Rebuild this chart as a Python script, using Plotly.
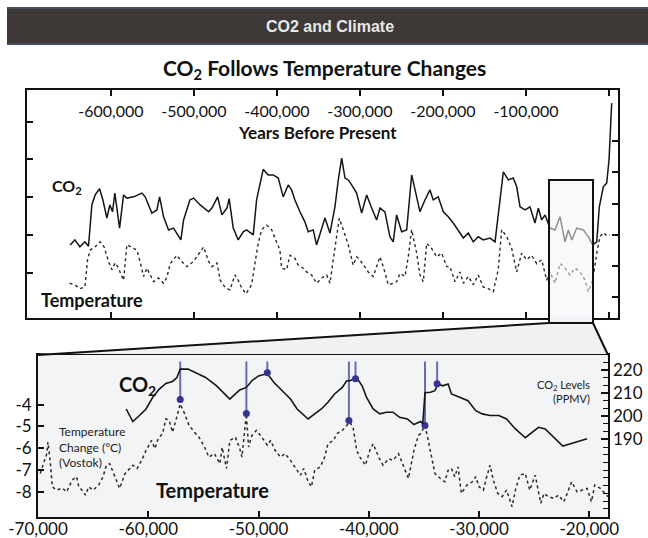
import plotly.graph_objects as go

W, H = 648, 538

# ---------------- data ----------------
# Long record (top panel): years before present, CO2 (ppmv), temperature change (deg C)
top_co2_years = [-649000, -643400, -637300, -631300, -626900, -622900, -618900, -613600, -609600, -604800,
                 -601200, -598000, -595200, -589500, -584700, -580700, -572600, -562600, -558700, -550600,
                 -544600, -541300, -536500, -530500, -524500, -520500, -515700, -512400, -504800, -500400,
                 -492400, -482300, -478300, -471400, -466300, -460200, -457500, -452600, -446600, -440600,
                 -436500, -428500, -424500, -416500, -410500, -404500, -398400, -392400, -386400, -382300,
                 -378300, -372300, -366300, -362300, -356300, -352200, -348200, -342200, -336100, -330100,
                 -326100, -322000, -318000, -314100, -310000, -304000, -297900, -291900, -285900, -279900,
                 -275900, -269900, -263900, -259900, -255800, -249800, -243700, -237700, -231700, -227700,
                 -221700, -215700, -211700, -205700, -199600, -193600, -187600, -181600, -175500, -169500,
                 -163500, -157500, -151500, -143400, -137300, -131300, -127300, -121300, -115300, -111200,
                 -107200, -101200, -95200, -89200, -85200, -81100, -77100, -71100, -65100, -59000,
                 -53000, -49000, -44900, -38900, -31000, -24900, -19600, -14800, -11700, -6900,
                 -2800, 0, 3200]
top_co2_ppm = [184, 192, 181, 189, 182, 248, 264, 274, 256, 227,
               248, 237, 267, 211, 264, 259, 261, 267, 261, 235,
               240, 261, 229, 208, 211, 203, 192, 224, 256, 259,
               248, 237, 243, 261, 232, 243, 258, 211, 192, 205,
               208, 200, 256, 305, 296, 296, 291, 261, 280, 272,
               256, 237, 221, 205, 208, 184, 203, 227, 203, 245,
               288, 323, 291, 288, 280, 267, 235, 264, 243, 224,
               243, 237, 197, 189, 232, 205, 208, 296, 261, 237,
               256, 272, 256, 261, 237, 229, 219, 208, 195, 203,
               189, 197, 192, 195, 189, 256, 301, 288, 291, 277,
               245, 240, 245, 219, 243, 224, 232, 211, 208, 229,
               189, 208, 192, 211, 208, 197, 184, 189, 245, 277,
               283, 320, 411]

top_temp_years = [-649700, -643400, -637000, -631300, -628100, -624900, -619300, -612900, -608100, -602800,
                  -598800, -594800, -590800, -584700, -580700, -574700, -568700, -564700, -560600, -556600,
                  -548600, -542600, -536500, -532500, -528500, -520500, -516500, -508400, -500400, -488300,
                  -482300, -478300, -472300, -468300, -462600, -456600, -450600, -446600, -442500, -437300,
                  -430500, -426500, -422500, -418400, -412400, -406400, -400400, -396400, -394300, -388300,
                  -384300, -378300, -374300, -368300, -364200, -358200, -352200, -346100, -340100, -336100,
                  -332200, -328100, -324900, -320100, -314100, -308100, -304000, -300000, -294000, -290000,
                  -284000, -279900, -275900, -271900, -265900, -259900, -255800, -251800, -245800, -241800,
                  -237700, -231700, -227700, -223700, -219600, -213600, -207600, -201600, -195500, -191600,
                  -185500, -179500, -175500, -169500, -163500, -157500, -151500, -145400, -139400, -133400,
                  -129300, -123300, -117200, -111200, -105200, -99200, -93100, -87100, -81100, -75100,
                  -71100, -65100, -59000, -53000, -47000, -41000, -34900, -28900, -24900, -19600,
                  -14800, -10800, -6900, -2800, 1200]
top_temp_c = [-6.4, -6.6, -7.1, -6.9, -3.3, -2.0, -1.6, -0.9, -1.6, -3.5,
              -4.6, -3.7, -4.4, -6.0, -1.3, -1.6, -2.0, -3.6, -5.5, -4.4,
              -6.2, -5.7, -6.4, -5.6, -3.8, -2.7, -3.3, -4.2, -3.5, -1.6,
              -3.5, -4.2, -3.7, -6.0, -6.9, -7.3, -5.3, -6.0, -7.0, -7.8,
              -6.6, -3.8, -1.1, 0.7, 1.3, 0.7, -0.9, -2.0, -4.4, -4.6,
              -2.7, -3.1, -4.0, -4.4, -4.9, -5.3, -6.4, -5.7, -5.3, -6.4,
              -3.3, 0.2, 2.2, 0.7, -1.3, -4.0, -2.9, -3.3, -4.2, -4.9,
              -5.5, -4.2, -2.9, -4.2, -6.6, -6.4, -6.2, -5.1, -5.5, -2.9,
              0.7, -2.4, -5.3, -6.2, -1.1, -1.8, -2.9, -2.4, -4.2, -4.2,
              -6.2, -4.9, -6.4, -5.5, -6.6, -5.3, -6.9, -7.1, -7.5, -4.6,
              0.7, -0.2, -1.8, -4.9, -2.4, -3.3, -2.7, -3.8, -3.3, -6.0,
              -4.9, -6.4, -3.8, -4.4, -5.3, -4.4, -4.9, -6.0, -7.5, -6.0,
              -2.4, -0.2, 0.3, -0.1, 0.0]

# Detail (bottom panel), 70,000 - 18,000 years before present
inset_co2_years = [-62000, -61400, -60800, -60200, -59600, -59000, -58400, -57800, -57400, -57100,
                   -56400, -55700, -54800, -53800, -52900, -52600, -52100, -51700, -51100, -50600,
                   -50000, -49200, -48600, -47900, -47100, -46500, -45900, -45500, -44900, -44300,
                   -43700, -43100, -42400, -42000, -41700, -41100, -40600, -40200, -39600, -39000,
                   -38400, -37800, -37200, -36500, -35900, -35300, -35100, -34900, -34400, -34000,
                   -33700, -33300, -32800, -32500, -31700, -31000, -30300, -29700, -29000, -28200,
                   -27500, -26700, -25800, -25200, -24600, -24000, -23200, -22400, -21700, -21000,
                   -20200]
inset_co2_ppm = [203.1, 197.7, 200.3, 203.1, 208.1, 211.7, 214.1, 215.0, 216.7, 220.3,
                 220.3, 218.8, 216.7, 213.1, 208.8, 207.4, 209.6, 211.3, 212.4, 215.3,
                 217.4, 218.4, 214.5, 211.0, 207.4, 203.1, 200.3, 198.8, 201.0, 203.1,
                 206.0, 209.6, 212.4, 215.3, 215.3, 216.7, 213.1, 208.1, 203.1, 201.0,
                 201.7, 201.7, 199.5, 198.8, 196.4, 197.7, 196.8, 210.1, 210.3, 211.0,
                 213.9, 213.1, 213.9, 209.6, 208.1, 206.7, 202.4, 201.0, 200.3, 200.3,
                 198.8, 194.5, 190.7, 193.1, 195.2, 194.5, 190.9, 187.1, 188.1, 189.2,
                 190.3]

inset_temp_years = [-69800, -69500, -69200, -69100, -68900, -68700, -68300, -67800, -67400, -66900,
                    -66500, -66300, -66000, -65700, -65400, -65000, -64500, -64100, -63800, -63500,
                    -63000, -62600, -62100, -61700, -61400, -61000, -60600, -60200, -59700, -59400,
                    -59100, -58700, -58400, -58100, -57800, -57500, -57100, -56700, -56300, -55800,
                    -55400, -54900, -54500, -54000, -53500, -53300, -52900, -52600, -52100, -51700,
                    -51500, -51100, -50900, -50600, -50200, -49700, -49200, -48900, -48500, -48000,
                    -47600, -47100, -46700, -46200, -45900, -45500, -45200, -44900, -44400, -44000,
                    -43700, -43200, -42900, -42400, -42000, -41700, -41400, -41100, -40800, -40300,
                    -39900, -39600, -39100, -38700, -38200, -37800, -37300, -36900, -36400, -35900,
                    -35500, -35300, -34900, -34600, -34300, -34000, -33500, -33100, -32800, -32500,
                    -32200, -31900, -31600, -31100, -30600, -30300, -30000, -29600, -29300, -29000,
                    -28700, -28300, -27900, -27500, -27000, -26700, -26300, -25800, -25400, -24900,
                    -24400, -24100, -23700, -23200, -22800, -22300, -22000, -21600, -21100, -20700,
                    -20200, -19800, -19500, -19000, -18700, -18300]
inset_temp_c = [-7.15, -6.70, -6.24, -5.71, -6.55, -7.76, -7.91, -7.82, -7.99, -7.45,
                -7.30, -7.76, -7.91, -8.14, -7.76, -7.91, -7.68, -7.30, -6.77, -6.70,
                -7.30, -7.83, -7.15, -6.92, -6.77, -6.92, -6.55, -6.09, -5.64, -6.01,
                -5.56, -5.33, -4.65, -4.73, -5.26, -4.73, -3.97, -4.42, -4.95, -5.26,
                -5.49, -5.94, -6.40, -6.24, -6.70, -5.95, -6.92, -5.64, -5.49, -6.01,
                -6.40, -4.42, -5.94, -5.41, -5.18, -5.49, -5.86, -5.64, -6.09, -6.40,
                -6.24, -6.55, -6.85, -7.23, -6.92, -7.53, -7.76, -7.00, -6.85, -6.40,
                -5.79, -5.64, -5.33, -5.18, -4.95, -4.80, -5.10, -6.09, -6.40, -6.77,
                -6.09, -5.79, -6.40, -6.77, -6.47, -6.55, -6.24, -6.77, -7.38, -6.09,
                -5.41, -5.33, -4.95, -5.64, -6.40, -7.15, -7.38, -7.53, -7.00, -6.92,
                -7.30, -6.85, -8.06, -7.68, -7.53, -7.30, -7.76, -7.91, -7.30, -6.77,
                -7.45, -8.06, -8.21, -7.91, -8.67, -7.91, -7.23, -7.15, -7.91, -7.23,
                -8.51, -8.06, -8.21, -8.29, -8.14, -8.44, -8.06, -7.53, -7.99, -7.91,
                -7.83, -8.44, -7.68, -7.83, -7.99, -8.21]

# Temperature peaks and the later CO2 peaks (the blue markers)
temp_peak_years = [-57100, -51100, -41800, -34900]
temp_peak_c = [-3.77, -4.41, -4.73, -4.95]
co2_peak_years = [-49200, -41200, -33800]
co2_peak_ppm = [218.7, 216.1, 214.0]

# Tick values / labels
top_tick_vals = [-600000, -500000, -400000, -300000, -200000, -100000, 0]
top_tick_text = ["-600,000", "-500,000", "-400,000", "-300,000", "-200,000", "-100,000", " "]
top_temp_ticks = [-5, 0, 5, 10, 15]
inset_tick_vals = [-70000, -60000, -50000, -40000, -30000, -20000]
inset_tick_text = ["-70,000", "-60,000", "-50,000", "-40,000", "-30,000", "-20,000"]
inset_temp_ticks = [-8, -7, -6, -5, -4]
inset_temp_text = ["-8", "-7", "-6", "-5", "-4"]
inset_co2_ticks = [190, 200, 210, 220]
inset_co2_minor = [160, 163.33, 166.67, 170, 173.33, 176.67, 180, 183.33, 186.67, 193.33, 196.67,
                   203.33, 206.67, 213.33, 216.67, 223.33, 226.67]
inset_top_ticks = [-55400, -48100, -40800, -33700, -26100, -18900]

# ---------------- layout helpers ----------------
def px_x(p):
    return p / W


def px_y(p):
    return 1 - p / H


TOP_X_RANGE = [-701000, 10800]
TOP_T_RANGE = [-11.0, 19.2]
TOP_C_RANGE = [67, 432]
IN_X_RANGE = [-70000, -18300]
IN_T_RANGE = [-9.14, -1.73]
IN_C_RANGE = [156.5, 226.4]

top_dom_x = [px_x(27), px_x(618)]
top_dom_y = [px_y(318), px_y(90)]
in_dom_x = [px_x(38), px_x(608)]
in_dom_y = [px_y(517), px_y(355)]

FONT = "Lato, 'Open Sans', sans-serif"
BLUE = "#6a6ab8"
DOT = "#35358f"

fig = go.Figure()

# top panel traces
fig.add_trace(go.Scatter(x=top_co2_years, y=top_co2_ppm, xaxis="x", yaxis="y2", mode="lines",
                         line=dict(color="#151515", width=1.5), hoverinfo="skip", showlegend=False))
fig.add_trace(go.Scatter(x=top_temp_years, y=top_temp_c, xaxis="x", yaxis="y", mode="lines",
                         line=dict(color="#2a2a2a", width=1.4, dash="dot"), hoverinfo="skip", showlegend=False))

# inset traces
fig.add_trace(go.Scatter(x=inset_co2_years, y=inset_co2_ppm, xaxis="x3", yaxis="y4", mode="lines",
                         line=dict(color="#151515", width=1.6), hoverinfo="skip", showlegend=False))
fig.add_trace(go.Scatter(x=inset_temp_years, y=inset_temp_c, xaxis="x3", yaxis="y3", mode="lines",
                         line=dict(color="#2a2a2a", width=1.5, dash="dot"), hoverinfo="skip", showlegend=False))

# vertical marker lines: from the top of the inset down to each peak
t_top = IN_T_RANGE[0] + 0.96 * (IN_T_RANGE[1] - IN_T_RANGE[0])
c_top = IN_C_RANGE[0] + 0.96 * (IN_C_RANGE[1] - IN_C_RANGE[0])
lx, ly = [], []
for yr, v in zip(temp_peak_years, temp_peak_c):
    lx += [yr, yr, None]
    ly += [t_top, v, None]
fig.add_trace(go.Scatter(x=lx, y=ly, xaxis="x3", yaxis="y3", mode="lines",
                         line=dict(color=BLUE, width=2), hoverinfo="skip", showlegend=False))
lx, ly = [], []
for yr, v in zip(co2_peak_years, co2_peak_ppm):
    lx += [yr, yr, None]
    ly += [c_top, v, None]
fig.add_trace(go.Scatter(x=lx, y=ly, xaxis="x3", yaxis="y4", mode="lines",
                         line=dict(color=BLUE, width=2), hoverinfo="skip", showlegend=False))
fig.add_trace(go.Scatter(x=temp_peak_years, y=temp_peak_c, xaxis="x3", yaxis="y3", mode="markers",
                         marker=dict(color=DOT, size=7), hoverinfo="skip", showlegend=False))
fig.add_trace(go.Scatter(x=co2_peak_years, y=co2_peak_ppm, xaxis="x3", yaxis="y4", mode="markers",
                         marker=dict(color=DOT, size=7), hoverinfo="skip", showlegend=False))

axis_line = dict(showline=True, linecolor="#111", linewidth=2, showgrid=False, zeroline=False,
                 automargin=False)
plain = dict(showgrid=False, zeroline=False, showline=False, automargin=False)

fig.update_layout(
    template="none",
    width=W, height=H, autosize=False,
    margin=dict(l=0, r=0, t=0, b=0, pad=0),
    paper_bgcolor="white", plot_bgcolor="rgba(0,0,0,0)",
    font=dict(family=FONT, color="#111"),
    xaxis=dict(domain=top_dom_x, range=TOP_X_RANGE, anchor="y", side="top",
               tickvals=top_tick_vals, ticktext=top_tick_text, ticks="inside", ticklen=6,
               tickcolor="#111", tickwidth=1.5, ticklabelposition="inside", ticklabelstandoff=10,
               tickfont=dict(size=16, color="#111"), mirror="ticks", **axis_line),
    yaxis=dict(domain=top_dom_y, range=TOP_T_RANGE, anchor="x", tickvals=top_temp_ticks,
               ticks="inside", ticklen=6, tickwidth=1.5, tickcolor="#111", showticklabels=False,
               mirror=True, **axis_line),
    yaxis2=dict(domain=top_dom_y, range=TOP_C_RANGE, anchor="x", overlaying="y", side="right",
                tick0=0, dtick=50, ticks="inside", ticklen=6, tickwidth=1.5, tickcolor="#111",
                showticklabels=False, **plain),
    xaxis3=dict(domain=in_dom_x, range=IN_X_RANGE, anchor="y3", tickvals=inset_tick_vals,
                ticktext=inset_tick_text, ticks="inside", ticklen=6, tickwidth=1.5, tickcolor="#111",
                ticklabelstandoff=-4,
                tickfont=dict(size=17, color="#111"), mirror=True, **axis_line),
    xaxis4=dict(domain=in_dom_x, range=IN_X_RANGE, anchor="y3", overlaying="x3", side="top",
                tickvals=inset_top_ticks, ticks="inside", ticklen=5, tickwidth=1.5, tickcolor="#111",
                showticklabels=False, **plain),
    yaxis3=dict(domain=in_dom_y, range=IN_T_RANGE, anchor="x3", tickvals=inset_temp_ticks,
                ticktext=inset_temp_text, ticks="inside", ticklen=6, tickwidth=1.5, tickcolor="#111",
                ticklabelstandoff=1,
                tickfont=dict(size=17, color="#111"), mirror=True, **axis_line),
    yaxis4=dict(domain=in_dom_y, range=IN_C_RANGE, anchor="x3", overlaying="y3", side="right",
                tickvals=inset_co2_ticks, ticks="inside", ticklen=7, tickwidth=1.5, tickcolor="#111",
                tickfont=dict(size=17, color="#111"), ticklabelstandoff=4,
                minor=dict(tickvals=inset_co2_minor, ticks="inside", ticklen=5, tickwidth=1.2,
                           tickcolor="#111"),
                **plain),
)

shapes = []
# header bar
shapes.append(dict(type="rect", xref="paper", yref="paper", x0=px_x(7), x1=1, y0=px_y(45), y1=px_y(7),
                   fillcolor="#3e3836", line=dict(width=0), layer="below"))
shapes.append(dict(type="line", xref="paper", yref="paper", x0=px_x(7), x1=1, y0=px_y(8), y1=px_y(8),
                   line=dict(color="#4d5670", width=1.5), layer="below"))
shapes.append(dict(type="line", xref="paper", yref="paper", x0=px_x(7), x1=1, y0=px_y(44), y1=px_y(44),
                   line=dict(color="#4d5670", width=1.5), layer="below"))
# inset background
shapes.append(dict(type="rect", xref="x3 domain", yref="y3 domain", x0=0, x1=1, y0=0, y1=1,
                   fillcolor="#f3f4f6", line=dict(width=0), layer="below"))
# magnifier region
bx0, bx1 = 549, 593
path = (f"M {px_x(bx0)},{px_y(316)} L {px_x(bx1)},{px_y(316)} L {px_x(bx1)},{px_y(323)} "
        f"L {px_x(608)},{px_y(354)} L {px_x(38)},{px_y(354)} L {px_x(bx0)},{px_y(323)} Z")
shapes.append(dict(type="path", xref="paper", yref="paper", path=path, fillcolor="#f0f1f3",
                   line=dict(width=0), layer="above"))
shapes.append(dict(type="rect", xref="paper", yref="paper", x0=px_x(bx0), x1=px_x(bx1),
                   y0=px_y(323), y1=px_y(180), fillcolor="rgba(242,244,247,0.55)",
                   line=dict(color="#111", width=2), layer="above"))
shapes.append(dict(type="line", xref="paper", yref="paper", x0=px_x(bx0), y0=px_y(323),
                   x1=px_x(38), y1=px_y(355), line=dict(color="#111", width=2), layer="above"))
shapes.append(dict(type="line", xref="paper", yref="paper", x0=px_x(bx1), y0=px_y(323),
                   x1=px_x(608), y1=px_y(355), line=dict(color="#111", width=2), layer="above"))
fig.update_layout(shapes=shapes)

ann = []


def add_text(text, x, y, size, bold=False, color="#111", align="center", xanchor="center",
             family=FONT):
    ann.append(dict(text=f"<b>{text}</b>" if bold else text, x=px_x(x), y=px_y(y), xref="paper",
                    yref="paper", showarrow=False, align=align, xanchor=xanchor, yanchor="middle",
                    font=dict(size=size, color=color, family=family)))


add_text("CO2 and Climate", 330, 27, 16, bold=True, color="#e8e8e8",
         family="'Liberation Sans', Arial, sans-serif")
add_text("CO<sub>2</sub> Follows Temperature Changes", 324, 69, 21, bold=True)
add_text("Years Before Present", 317, 133, 17, bold=True)
add_text("CO<sub>2</sub>", 67, 186, 16, bold=True)
add_text("Temperature", 92, 300, 18, bold=True)
add_text("CO<sub>2</sub>", 137, 385, 20, bold=True)
add_text("Temperature", 212, 490, 20, bold=True)
add_text("Temperature<br>Change (°C)<br>(Vostok)", 57, 447, 12, align="left", xanchor="left",
         color="#222")
add_text("CO<sub>2</sub> Levels<br>(PPMV)", 592, 391, 11, align="right", xanchor="right", color="#222")
fig.update_layout(annotations=ann)

fig.write_html("out.html", config={"displayModeBar": False},
               post_script="document.body.style.margin='0px';document.body.style.overflow='hidden';")
